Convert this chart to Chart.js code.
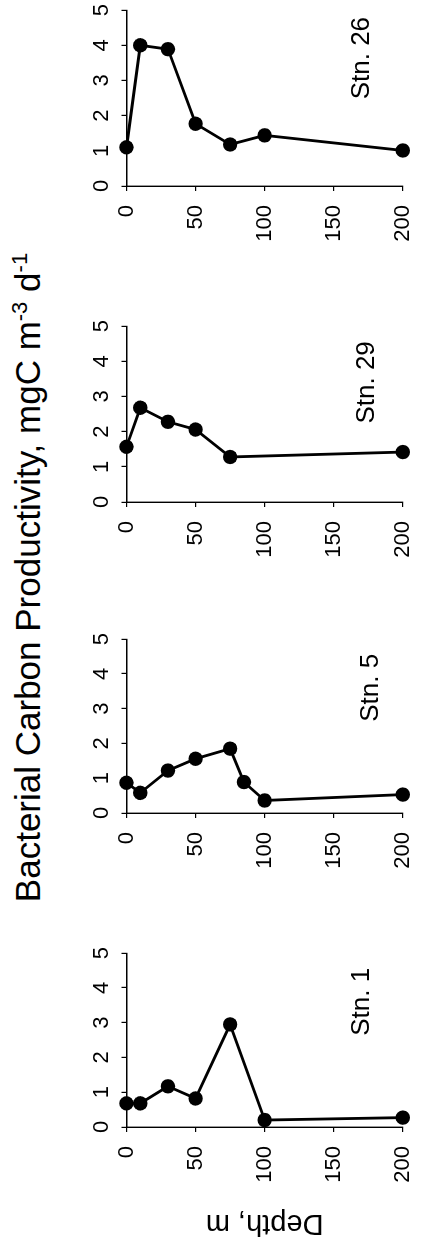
<!DOCTYPE html>
<html>
<head>
<meta charset="utf-8">
<script src="https://cdn.jsdelivr.net/npm/chart.js@4.4.1/dist/chart.umd.min.js"></script>
<style>
  html, body { margin: 0; padding: 0; background: #fff; overflow: hidden; width: 421px; height: 1257px; }
  /* the figure is laid out upright (1257 x 421) and turned a quarter turn to the left */
  #fig {
    position: absolute; left: 0; top: 0; width: 1257px; height: 421px;
    transform-origin: 0 0; transform: translate(0px, 1257px) rotate(-90deg);
    overflow: hidden; font-family: "Liberation Sans", Arial, sans-serif; color: #000;
  }
  #title {
    position: absolute; left: 0; width: 1359px; top: 8px; text-align: center;
    font-size: 35px; line-height: 40px; white-space: nowrap;
  }
  #title sup { font-size: 22px; line-height: 0; vertical-align: 13px; }
  .panel { position: absolute; top: 0; }
</style>
</head>
<body>
<div id="fig">
  <div id="title">Bacterial Carbon Productivity, mgC m<sup>-3</sup> d<sup>-1</sup></div>
  <canvas id="p0" class="panel"></canvas>
  <canvas id="p1" class="panel"></canvas>
  <canvas id="p2" class="panel"></canvas>
  <canvas id="p3" class="panel"></canvas>
</div>
<script>
// tick labels
const prodTicks = [0, 1, 2, 3, 4, 5];
const depthTicks = [0, 50, 100, 150, 200];

// station names
const stations = ["Stn. 1", "Stn. 5", "Stn. 29", "Stn. 26"];

// depth (m) and bacterial carbon productivity (mgC m-3 d-1)
const depthStn1 = [0, 10, 30, 50, 75, 100, 200];
const bcpStn1 = [0.68, 0.68, 1.17, 0.82, 2.95, 0.20, 0.27];

const depthStn5 = [0, 10, 30, 50, 75, 85, 100, 200];
const bcpStn5 = [0.87, 0.58, 1.22, 1.56, 1.85, 0.89, 0.36, 0.53];

const depthStn29 = [0, 10, 30, 50, 75, 200];
const bcpStn29 = [1.57, 2.68, 2.28, 2.06, 1.28, 1.42];

const depthStn26 = [0, 10, 30, 50, 75, 100, 200];
const bcpStn26 = [1.10, 4.00, 3.89, 1.77, 1.18, 1.44, 1.01];

const FONT = "'Liberation Sans', Arial, sans-serif";
const AXIS_W = 130;   // width of the depth axis block
const AXIS_H = 126.5; // height of the productivity axis block
const CANVAS_H = 430;

// layout of the four panels (left edge of canvas, plot width, station label spot)
const panels = [
  { depth: depthStn1,  bcp: bcpStn1,  left: 0,   plotW: 174, lx: 0.72,  ly: 0.853 },
  { depth: depthStn5,  bcp: bcpStn5,  left: 314, plotW: 174, lx: 0.72,  ly: 0.883 },
  { depth: depthStn29, bcp: bcpStn29, left: 625, plotW: 176, lx: 0.68,  ly: 0.868 },
  { depth: depthStn26, bcp: bcpStn26, left: 941, plotW: 176, lx: 0.727, ly: 0.853 },
];

// draws the station name inside the plot
const stationLabel = {
  id: "stationLabel",
  afterDatasetsDraw(chart, args, opts) {
    const { ctx, chartArea: a } = chart;
    ctx.save();
    ctx.fillStyle = "#000";
    ctx.font = `26px ${FONT}`;
    ctx.textAlign = "center";
    ctx.textBaseline = "middle";
    ctx.fillText(opts.text, a.left + a.width * opts.fx, a.top + a.height * opts.fy);
    ctx.restore();
  }
};

panels.forEach((p, i) => {
  const canvas = document.getElementById(`p${i}`);
  canvas.width = AXIS_W + p.plotW + 12;
  canvas.height = CANVAS_H;
  canvas.style.left = p.left + "px";

  new Chart(canvas, {
    type: "scatter",
    data: {
      datasets: [{
        data: p.depth.map((d, k) => ({ x: p.bcp[k], y: d })),
        showLine: true,
        borderColor: "#000",
        borderWidth: 2.8,
        backgroundColor: "#000",
        pointRadius: 7.2,
        pointBorderWidth: 0,
        pointBackgroundColor: "#000",
        clip: false,
      }]
    },
    options: {
      responsive: false,
      animation: false,
      devicePixelRatio: 1,
      layout: { padding: { top: 0, left: 0, right: 12, bottom: CANVAS_H - 409 } },
      plugins: {
        legend: { display: false },
        tooltip: { enabled: false },
        stationLabel: { text: stations[i], fx: p.lx, fy: p.ly },
      },
      scales: {
        x: {
          type: "linear",
          position: "top",
          min: 0,
          max: 5,
          afterFit: (s) => { s.height = AXIS_H; },
          afterBuildTicks: (s) => { s.ticks = prodTicks.map((v) => ({ value: v })); },
          ticks: { color: "#000", font: { family: FONT, size: 22 }, padding: 6, maxRotation: 0 },
          grid: { drawOnChartArea: false, color: "#000", lineWidth: 1.2, tickLength: 5 },
          border: { color: "#000", width: 1.4 },
        },
        y: {
          type: "linear",
          reverse: true,
          min: 0,
          max: 200,
          afterFit: (s) => { s.width = AXIS_W; },
          afterBuildTicks: (s) => { s.ticks = depthTicks.map((v) => ({ value: v })); },
          title: {
            display: i === 0,
            text: "Depth, m",
            color: "#000",
            font: { family: FONT, size: 29 },
            padding: { top: 17, bottom: 0 },
          },
          ticks: { color: "#000", font: { family: FONT, size: 22 }, padding: 14 },
          grid: { drawOnChartArea: false, color: "#000", lineWidth: 1.2, tickLength: 5 },
          border: { color: "#000", width: 1.4 },
        },
      },
    },
    plugins: [stationLabel],
  });
});
</script>
</body>
</html>
